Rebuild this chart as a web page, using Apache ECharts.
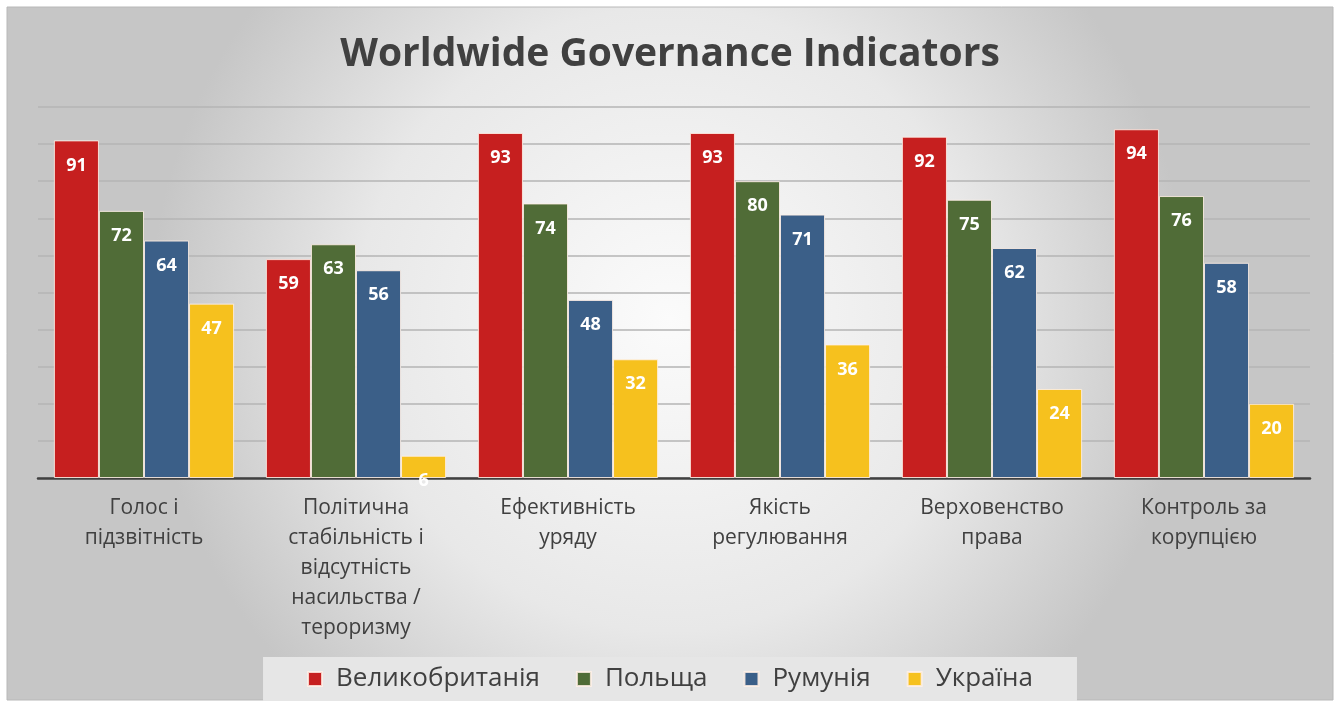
<!DOCTYPE html>
<html>
<head>
<meta charset="utf-8">
<script src="https://cdn.jsdelivr.net/npm/echarts@6/dist/echarts.min.js"></script>
<style>html,body{margin:0;padding:0;background:#fff}#c{width:1340px;height:712px}</style>
</head>
<body>
<div id="c"></div>
<script>
const categories = ["Голос і\nпідзвітність", "Політична\nстабільність і\nвідсутність\nнасильства /\nтероризму", "Ефективність\nуряду", "Якість\nрегулювання", "Верховенство\nправа", "Контроль за\nкорупцією"];
const seriesNames = ["Великобританія", "Польща", "Румунія", "Україна"];
const uk = [91, 59, 93, 93, 92, 94];
const pl = [72, 63, 74, 80, 75, 76];
const ro = [64, 56, 48, 71, 62, 58];
const ua = [47, 6, 32, 36, 24, 20];
const colors = ["#c61f1f", "#506c37", "#3b5f88", "#f6c11e"];

const font = "'Open Sans', 'Noto Sans', sans-serif";
const chart = echarts.init(document.getElementById('c'));
const mk = (name, data, i) => ({
  name, type: 'bar', data,
  barGap: '0%', barCategoryGap: '15%',
  itemStyle: { color: colors[i], borderColor: 'rgba(255,240,230,0.85)', borderWidth: 1 },
  label: { show: true, position: 'insideTop', distance: 16, color: '#fff', fontWeight: 'bold', fontSize: 18, fontFamily: font }
});
chart.setOption({
  animation: false,
  graphic: [{
    type: 'rect', z: -10, silent: true,
    shape: { x: 7, y: 7, width: 1326, height: 693 },
    style: {
      fill: new echarts.graphic.RadialGradient(0.5, 0.45, 0.75, [
        { offset: 0, color: '#fbfbfb' },
        { offset: 0.6, color: '#e8e8e8' },
        { offset: 1, color: '#c6c6c6' }
      ]),
      stroke: '#b8b8b8', lineWidth: 1
    }
  }],
  title: {
    text: 'Worldwide Governance Indicators', left: 'center', top: 30,
    textStyle: { fontFamily: font, fontWeight: 'bold', fontSize: 39, color: '#404040' }
  },
  legend: {
    bottom: 11, left: 'center', itemWidth: 14, itemHeight: 14, itemGap: 36,
    backgroundColor: '#e6e6e6', padding: [9, 44, 9, 44],
    icon: 'rect',
    textStyle: { fontFamily: font, fontSize: 26, color: '#404040', padding: [0, 0, 0, 9] }
  },
  grid: { left: 38, right: 30, top: 107, bottom: 234 },
  xAxis: {
    type: 'category', data: categories,
    axisLine: { lineStyle: { color: '#404040', width: 2.5 } },
    axisTick: { show: false },
    axisLabel: { fontFamily: font, fontSize: 21, color: '#404040', lineHeight: 30, margin: 15, interval: 0 }
  },
  yAxis: {
    type: 'value', min: 0, max: 100, interval: 10,
    axisLabel: { show: false }, axisLine: { show: false }, axisTick: { show: false },
    splitLine: { lineStyle: { color: '#b5b5b5', width: 1.5 } }
  },
  series: [mk(seriesNames[0], uk, 0), mk(seriesNames[1], pl, 1), mk(seriesNames[2], ro, 2), mk(seriesNames[3], ua, 3)]
});
</script>
</body>
</html>
